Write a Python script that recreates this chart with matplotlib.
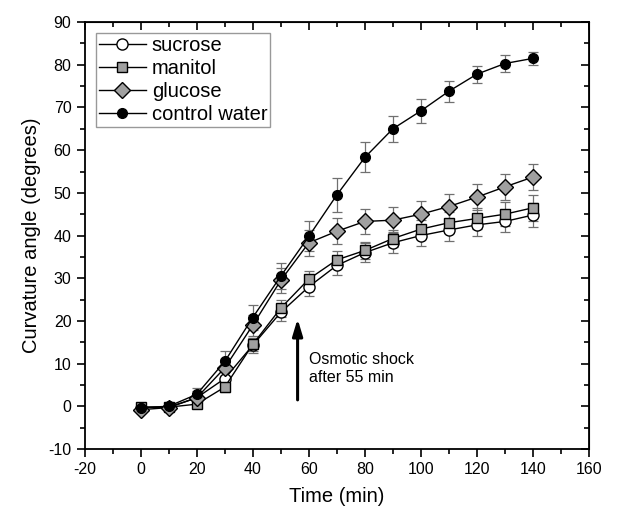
"""Curvature angle over time after osmotic shock."""

import numpy as np
import matplotlib
matplotlib.use("Agg")
import matplotlib.pyplot as plt
from matplotlib.ticker import MultipleLocator

plt.rcParams["font.family"] = ["Liberation Sans", "DejaVu Sans"]
plt.rcParams["axes.unicode_minus"] = False

time = [0, 10, 20, 30, 40, 50, 60, 70, 80, 90, 100, 110, 120, 130, 140]

sucrose     = [-0.3, -0.2, 2.0, 6.5, 14.3, 22.0, 28.0, 33.0, 36.0, 38.3, 40.0, 41.3, 42.5, 43.3, 44.8]
sucrose_err = [0.8, 0.8, 1.2, 1.5, 1.8, 2.0, 2.2, 2.3, 2.3, 2.5, 2.5, 2.5, 2.5, 2.5, 2.8]

manitol     = [-0.2, -0.2, 0.5, 4.5, 14.5, 23.0, 29.8, 34.3, 36.5, 39.3, 41.5, 43.0, 44.0, 45.0, 46.5]
manitol_err = [0.8, 0.8, 1.0, 1.2, 1.5, 2.0, 2.0, 2.0, 2.0, 2.0, 2.2, 2.5, 2.5, 2.8, 3.0]

glucose     = [-0.8, -0.3, 2.0, 9.0, 19.0, 29.5, 38.3, 41.0, 43.3, 43.6, 45.0, 46.8, 49.0, 51.4, 53.7]
glucose_err = [0.8, 0.8, 1.5, 2.0, 2.5, 3.0, 3.0, 3.0, 3.0, 3.0, 3.0, 3.0, 3.0, 3.0, 3.0]

control     = [-0.3, 0.0, 2.8, 10.5, 20.8, 30.5, 39.8, 49.5, 58.3, 65.0, 69.2, 73.8, 77.8, 80.3, 81.5]
control_err = [0.8, 0.8, 1.5, 2.5, 3.0, 3.0, 3.5, 4.0, 3.5, 3.0, 2.8, 2.5, 2.0, 2.0, 1.5]

fig = plt.figure(figsize=(6.44, 5.14), dpi=100)
ax = fig.add_axes([0.1315, 0.1265, 0.783, 0.8305])

series = [
    ("sucrose",       sucrose, sucrose_err, "o", "white",   8.0),
    ("manitol",       manitol, manitol_err, "s", "#a0a0a0", 7.5),
    ("glucose",       glucose, glucose_err, "D", "#a0a0a0", 8.5),
    ("control water", control, control_err, "o", "black",   7.0),
]

for label, y, err, mk, fc, ms in series:
    ax.errorbar(time, y, yerr=err, fmt="none", ecolor="#707070",
                elinewidth=0.9, capsize=3.5, capthick=0.9, zorder=2)
for label, y, err, mk, fc, ms in series:
    ax.plot(time, y, color="black", linewidth=1.0, marker=mk, markersize=ms,
            markerfacecolor=fc, markeredgecolor="black", markeredgewidth=1.0,
            label=label, zorder=3)

# osmotic shock marker
ax.annotate("", xy=(56, 20.5), xytext=(56, 1.5),
            arrowprops=dict(arrowstyle="-|>,head_width=0.3,head_length=1.0",
                            color="black", lw=2.2, shrinkA=0, shrinkB=0))
ax.text(60.2, 8.8, "Osmotic shock\nafter 55 min", fontsize=11.5,
        va="center", ha="left", linespacing=1.25)

ax.set_xlim(-20, 160)
ax.set_ylim(-10, 90)
ax.xaxis.set_major_locator(MultipleLocator(20))
ax.xaxis.set_minor_locator(MultipleLocator(10))
ax.yaxis.set_major_locator(MultipleLocator(10))
ax.yaxis.set_minor_locator(MultipleLocator(5))
ax.tick_params(which="both", direction="out", labelsize=11.5, width=1.2)
ax.tick_params(which="major", length=6)
ax.tick_params(which="minor", length=3.5)
for spine in ax.spines.values():
    spine.set_linewidth(1.3)

# inward ticks on top and right
ax2 = ax.secondary_xaxis("top")
ax2.xaxis.set_major_locator(MultipleLocator(20))
ax2.xaxis.set_minor_locator(MultipleLocator(10))
ax2.tick_params(which="both", direction="in", labeltop=False, width=1.2)
ax2.tick_params(which="major", length=6)
ax2.tick_params(which="minor", length=3.5)
ax3 = ax.secondary_yaxis("right")
ax3.yaxis.set_major_locator(MultipleLocator(10))
ax3.yaxis.set_minor_locator(MultipleLocator(5))
ax3.tick_params(which="both", direction="in", labelright=False, width=1.2)
ax3.tick_params(which="major", length=6)
ax3.tick_params(which="minor", length=3.5)

ax.set_xlabel("Time (min)", fontsize=14.5, labelpad=7)
ax.set_ylabel("Curvature angle (degrees)", fontsize=14.5, labelpad=5)

leg = ax.legend(loc="upper left", bbox_to_anchor=(0.015, 0.985), fontsize=14.5,
                frameon=True, fancybox=False, edgecolor="#808080",
                borderpad=0.15, labelspacing=0.2, handlelength=2.3,
                handletextpad=0.3, borderaxespad=0.2)
leg.get_frame().set_linewidth(1.0)

fig.savefig("out.png", dpi=100)
